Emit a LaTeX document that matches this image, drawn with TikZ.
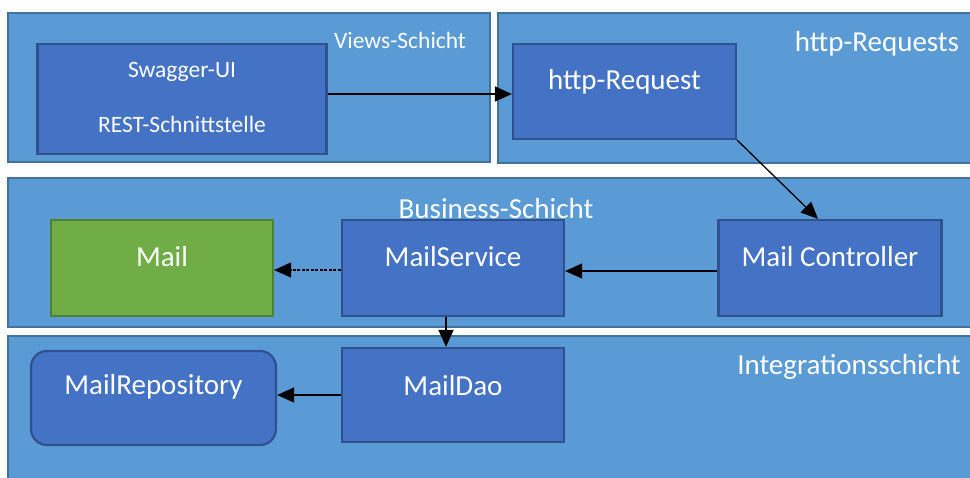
\documentclass[tikz,border=0pt]{standalone}
\usepackage{fontspec}
\setmainfont{Carlito}
\usetikzlibrary{arrows.meta}
\definecolor{panelfill}{HTML}{5B9BD5}
\definecolor{panelline}{HTML}{41719C}
\definecolor{boxfill}{HTML}{4472C4}
\definecolor{boxline}{HTML}{2F528F}
\definecolor{entfill}{HTML}{70AD47}
\definecolor{entline}{HTML}{507E32}
\tikzset{
  panel/.style={draw=panelline, fill=panelfill, line width=2pt, rectangle, inner sep=0pt},
  compbox/.style={draw=boxline, fill=boxfill, line width=2.2pt, rectangle, inner sep=0pt},
  entbox/.style={draw=entline, fill=entfill, line width=2.2pt, rectangle, inner sep=0pt},
  small/.style={text=white, font=\fontsize{23.5}{28}\selectfont},
  big/.style={text=white, font=\fontsize{29}{34}\selectfont},
  conn/.style={line width=1.3pt, -{Triangle[length=17pt,width=15pt]}},
}
\begin{document}
\begin{tikzpicture}[x=1pt, y=-1pt]
\useasboundingbox (0,0) rectangle (970,477);
\clip (0,0) rectangle (970,477);
\fill[white] (0,0) rectangle (970,477);

% layer panels
\node[panel, minimum width=482pt, minimum height=149pt] (views) at (249,87.5) {};
\node[panel, minimum width=482pt, minimum height=150pt] (httpl) at (739,88) {};
\node[panel, minimum width=972pt, minimum height=149pt] (business) at (494,252.5) {};
\node[panel, minimum width=972pt, minimum height=160pt] (integ) at (494,416) {};

% panel titles
\node[small] (tviews) at (400,40) {Views-Schicht};
\node[big] (thttp) at (877,44) {http-Requests};
\node[big] (tbusiness) at (496,209) {Business-Schicht};
\node[big] (tinteg) at (849,367) {Integrationsschicht};

% components
\node[compbox, minimum width=289pt, minimum height=110pt] (sw) at (182,99) {};
\node[small] (swt) at (182,72) {Swagger-UI};
\node[small] (rest) at (182,124) {REST-Schnittstelle};

\node[compbox, minimum width=223pt, minimum height=95pt,
      label={[big, yshift=9.5pt]center:http-Request}] (http) at (624.5,91.5) {};

\node[entbox, minimum width=222pt, minimum height=96pt,
      label={[big, yshift=11pt]center:Mail}] (mail) at (162,268) {};
\node[compbox, minimum width=222pt, minimum height=96pt,
      label={[big, yshift=11pt]center:MailService}] (ms) at (453,268) {};
\node[compbox, minimum width=223pt, minimum height=96pt,
      label={[big, yshift=11pt]center:Mail Controller}] (mc) at (830,268) {};

\node[compbox, rounded corners=16pt, minimum width=245pt, minimum height=94pt,
      label={[big, yshift=11pt]center:MailRepository}] (repo) at (153.5,398) {};
\node[compbox, minimum width=222pt, minimum height=94pt,
      label={[big, yshift=9pt]center:MailDao}] (dao) at (453,395) {};

% connectors
\draw[conn] ([yshift=5pt]sw.east) -- ([yshift=5pt]sw.east -| http.west);
\draw[conn] (http.south east) -- ([xshift=-12pt]mc.north);
\draw[conn] ([yshift=-3pt]mc.west) -- ([yshift=-3pt]mc.west -| ms.east);
\draw[conn, dash pattern=on 3pt off 1.5pt] ([yshift=-2pt]ms.west) -- ([yshift=-2pt]ms.west -| mail.east);
\draw[conn] ([xshift=-7pt]ms.south) -- ([xshift=-7pt]ms.south |- dao.north);
\draw[conn] (dao.west) -- (dao.west -| repo.east);
\end{tikzpicture}
\end{document}
